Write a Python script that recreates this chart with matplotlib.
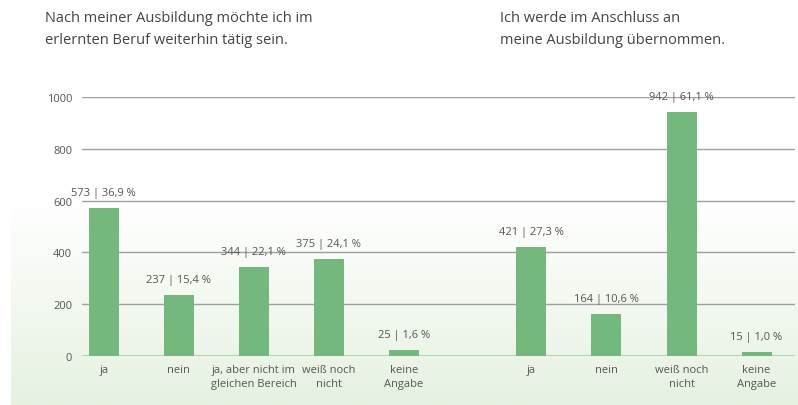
import matplotlib
matplotlib.use("Agg")
import matplotlib.pyplot as plt
import numpy as np
from matplotlib.colors import LinearSegmentedColormap

plt.rcParams['font.family'] = ['Open Sans', 'DejaVu Sans']

# Data
left_categories = ["ja", "nein", "ja, aber nicht im\ngleichen Bereich", "weiß noch\nnicht", "keine\nAngabe"]
left_values = [573, 237, 344, 375, 25]
left_pct = ["36,9 %", "15,4 %", "22,1 %", "24,1 %", "1,6 %"]

right_categories = ["ja", "nein", "weiß noch\nnicht", "keine\nAngabe"]
right_values = [421, 164, 942, 15]
right_pct = ["27,3 %", "10,6 %", "61,1 %", "1,0 %"]

left_title = "Nach meiner Ausbildung möchte ich im\nerlernten Beruf weiterhin tätig sein."
right_title = "Ich werde im Anschluss an\nmeine Ausbildung übernommen."

yticks = [0, 200, 400, 600, 800, 1000]

bar_color = "#74b87d"
text_color = "#555555"

fig = plt.figure(figsize=(7.98, 4.06), dpi=100)

# background gradient
bg = fig.add_axes([0.014, 0.0, 0.986, 1.0], zorder=-5)
grad = np.linspace(0, 1, 256).reshape(-1, 1)
cmap = LinearSegmentedColormap.from_list("g", ["#ffffff", "#ffffff", "#e6f1e1"])
bg.imshow(grad, aspect="auto", cmap=cmap, extent=[0, 1, 0, 1], origin="upper")
bg.set_axis_off()

ax = fig.add_axes([0.1028, 0.1207, 0.8932, 0.6379])
ax.patch.set_alpha(0)

lx = np.arange(len(left_values))
rx = np.arange(len(right_values)) + 5.7

ax.bar(lx, left_values, width=0.4, color=bar_color, zorder=3)
ax.bar(rx, right_values, width=0.4, color=bar_color, zorder=3)

for x, v, p in zip(lx, left_values, left_pct):
    ax.text(x, v + 38, f"{v} | {p}", ha="center", va="bottom", fontsize=8, color=text_color, clip_on=False)
for x, v, p in zip(rx, right_values, right_pct):
    ax.text(x, v + 38, f"{v} | {p}", ha="center", va="bottom", fontsize=8, color=text_color, clip_on=False)

ax.set_xlim(-0.29, 9.21)
ax.set_ylim(0, 1000)
ax.set_yticks(yticks)
ax.set_yticklabels([str(t) for t in yticks], fontsize=8, color=text_color)
ax.yaxis.grid(True, color="#a0a0a0", linewidth=1.0, zorder=0)
ax.set_axisbelow(True)
ax.tick_params(axis="y", length=0, pad=7)
ax.set_xticks(list(lx) + list(rx))
ax.set_xticklabels(left_categories + right_categories, fontsize=8, color=text_color, linespacing=1.35)
ax.tick_params(axis="x", length=0, pad=6)
for s in ax.spines.values():
    s.set_visible(False)
ax.axhline(0, color="#a9d1a9", linewidth=1.2, zorder=2)

fig.text(45 / 798, 1 - 11 / 406, left_title, ha="left", va="top", fontsize=10.5, color="#444444", linespacing=1.65)
fig.text(500 / 798, 1 - 11 / 406, right_title, ha="left", va="top", fontsize=10.5, color="#444444", linespacing=1.65)

fig.savefig("out.png", dpi=100)
